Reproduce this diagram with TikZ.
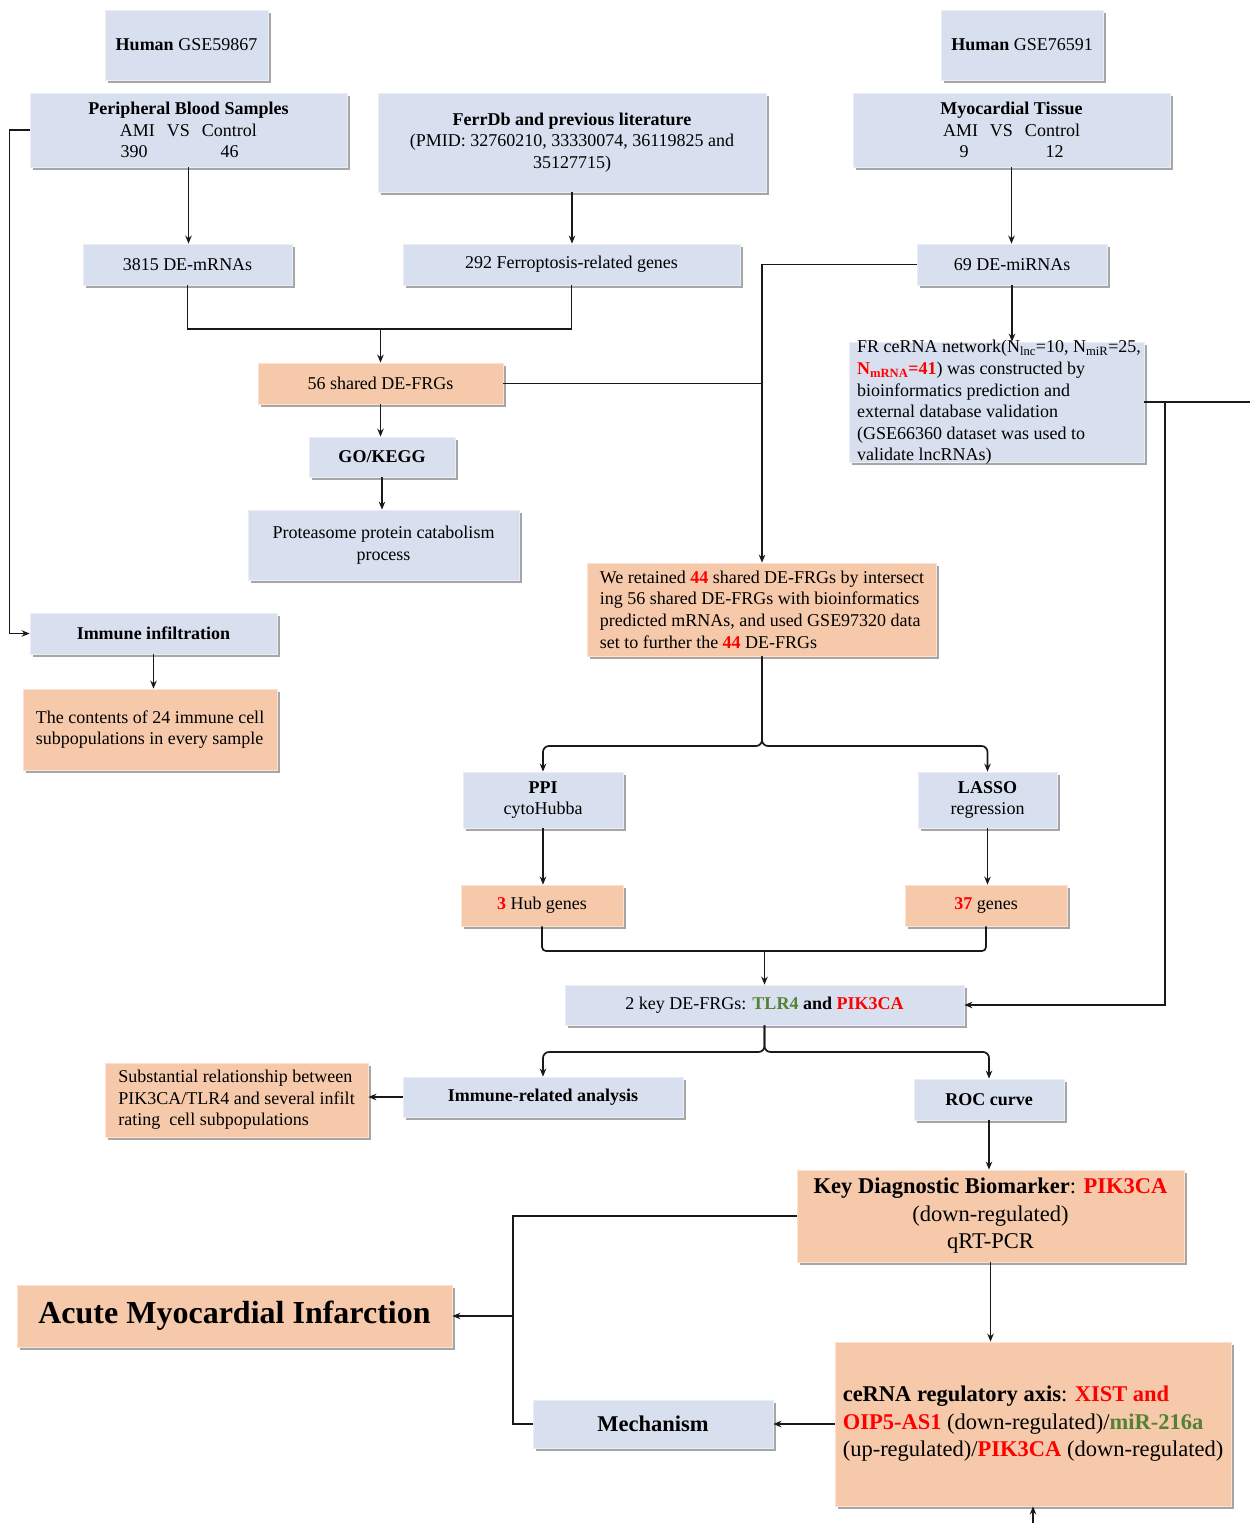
\documentclass[tikz,border=0pt]{standalone}
\usepackage{fontspec}
\setmainfont{Liberation Serif}
\usetikzlibrary{arrows.meta,shadows,calc}
\definecolor{boxblue}{RGB}{216,223,238}
\definecolor{boxorange}{RGB}{246,201,170}
\definecolor{tgreen}{RGB}{84,130,53}
\definecolor{tred}{RGB}{255,0,0}
\newcommand{\fsn}{\fontsize{18}{21.6}\selectfont}
\newcommand{\fsl}{\fontsize{22.5}{27.5}\selectfont}
\newcommand{\fsh}{\fontsize{32}{38}\selectfont}
\newcommand{\rb}[1]{\textcolor{tred}{\textbf{#1}}}
\newcommand{\gb}[1]{\textcolor{tgreen}{\textbf{#1}}}
\tikzset{
  bbox/.style={fill=boxblue, draw=boxblue!55!white, line width=0.8pt,
    drop shadow={shadow xshift=2.5pt, shadow yshift=-3pt, fill=black, opacity=0.35},
    inner sep=2pt, font=\fsn, align=center},
  obox/.style={bbox, fill=boxorange, draw=boxorange!55!white},
  ln/.style={line width=1.7pt, draw=black!90},
  arr/.style={ln, -{Stealth[length=8pt,width=6.5pt]}},
}
\begin{document}
\begin{tikzpicture}[x=1pt,y=-1pt]
\fill[white] (0,0) rectangle (1250,1523);
\useasboundingbox (0,0) rectangle (1250,1523);

% nodes
\node[bbox, minimum width=163pt, minimum height=70pt] (h1) at (186.5,45) {\textbf{Human} GSE59867};
\node[bbox, minimum width=162pt, minimum height=70pt] (h2) at (1022,45) {\textbf{Human} GSE76591};
\node[bbox, minimum width=317pt, minimum height=74pt] (pbs) at (188.5,130)
  {\textbf{Peripheral Blood Samples}\\AMI\hspace{12pt}VS\hspace{12pt}Control\\390\hspace{73pt}46\hspace*{18pt}};
\node[bbox, minimum width=388pt, minimum height=99pt] (ferr) at (572,142.5)
  {\textbf{FerrDb and previous literature}\\(PMID: 32760210, 33330074, 36119825 and\\35127715)};
\node[bbox, minimum width=317pt, minimum height=74pt] (myo) at (1011.5,130)
  {\textbf{Myocardial Tissue}\\AMI\hspace{12pt}VS\hspace{12pt}Control\\9\hspace{77pt}12};
\node[bbox, minimum width=209pt, minimum height=41pt] (de1) at (187.5,264.5) {3815 DE-mRNAs};
\node[bbox, minimum width=337pt, minimum height=41pt] (fg) at (571.5,264.5) {292 Ferroptosis-related genes};
\node[bbox, minimum width=190pt, minimum height=41pt] (mi) at (1012,264.5) {69 DE-miRNAs};
\node[obox, minimum width=245pt, minimum height=41pt] (s56) at (380.5,383.5) {56 shared DE-FRGs};
\node[bbox, minimum width=295pt, minimum height=120pt] (fr) at (996.5,402) {};
\node[font=\fsn, align=left, inner sep=0pt] (frt) at (999,402.5)
  {FR ceRNA network(N\textsubscript{lnc}=10, N\textsubscript{miR}=25,\\
   \rb{N\textsubscript{mRNA}=41}) was constructed by\\
   bioinformatics prediction and\\
   external database validation\\
   (GSE66360 dataset was used to\\
   validate lncRNAs)};
\node[bbox, minimum width=146pt, minimum height=40pt] (go) at (382,457) {\textbf{GO/KEGG}};
\node[bbox, minimum width=271pt, minimum height=70pt] (prot) at (383.5,545) {Proteasome protein catabolism\\process};
\node[obox, minimum width=349pt, minimum height=93pt, align=left] (ret) at (762,609.5)
  {We retained \rb{44} shared DE-FRGs by intersect\\
   ing 56 shared DE-FRGs with bioinformatics\\
   predicted mRNAs, and used GSE97320 data\\
   set to further the \rb{44} DE-FRGs};
\node[bbox, minimum width=247pt, minimum height=41pt] (imm) at (153.5,633.5) {\textbf{Immune infiltration}};
\node[obox, minimum width=254pt, minimum height=81pt, align=left] (cont) at (150,729.5)
  {The contents of 24 immune cell\\subpopulations in every sample};
\node[bbox, minimum width=160pt, minimum height=56pt] (ppi) at (543,800) {\textbf{PPI}\\cytoHubba};
\node[bbox, minimum width=139pt, minimum height=56pt] (lasso) at (987.5,800) {\textbf{LASSO}\\regression};
\node[obox, minimum width=162pt, minimum height=41pt] (hub) at (542,905.5) {\rb{3} Hub genes};
\node[obox, minimum width=162pt, minimum height=41pt] (g37) at (986,905.5) {\rb{37} genes};
\node[bbox, minimum width=399pt, minimum height=40pt] (key) at (764.5,1005)
  {2 key DE-FRGs: \gb{TLR4} \textbf{and} \rb{PIK3CA}};
\node[obox, minimum width=263pt, minimum height=74pt, align=left] (sub) at (236.5,1100)
  {Substantial relationship between\\PIK3CA/TLR4 and several infilt\\rating\ \ cell subpopulations};
\node[bbox, minimum width=280pt, minimum height=40pt] (ira) at (543,1097) {\textbf{Immune-related analysis}};
\node[bbox, minimum width=150pt, minimum height=41pt] (roc) at (989,1099.5) {\textbf{ROC curve}};
\node[obox, minimum width=387pt, minimum height=92pt, font=\fsl] (kdb) at (990.5,1216)
  {\textbf{Key Diagnostic Biomarker}: \rb{PIK3CA}\\(down-regulated)\\qRT-PCR};
\node[obox, minimum width=435pt, minimum height=62pt, font=\fsh] (ami) at (234.5,1316)
  {\textbf{Acute Myocardial Infarction}};
\node[obox, minimum width=396pt, minimum height=164pt, font=\fsl, align=left] (cer) at (1033,1424)
  {\textbf{ceRNA regulatory axis}: \rb{XIST and}\\
   \rb{OIP5-AS1} (down-regulated)/\gb{miR-216a}\\
   (up-regulated)/\rb{PIK3CA} (down-regulated)};
\node[bbox, minimum width=240pt, minimum height=48pt, font=\fsl] (mech) at (653,1424) {\textbf{Mechanism}};

% helper coordinates
\coordinate (j1) at (380.5,329);
\coordinate (sp1) at (762,746);
\coordinate (j3) at (764.5,951);
\coordinate (j4) at (764.5,1052);
\coordinate (j5) at (513,1316);
\coordinate (rEnd) at (1250,402);
\coordinate (rDrop) at (1165,402);
\coordinate (bEnd) at (1033,1523);

% connectors
\draw[arr] (pbs.south) -- (pbs.south |- de1.north);
\draw[arr] (ferr.south) -- (ferr.south |- fg.north);
\draw[arr] (myo.south) -- (myo.south |- mi.north);
\draw[ln] (de1.south) |- (j1) -| (fg.south);
\draw[arr] (j1) -- (s56.north);
\draw[arr] (mi.west) -| (ret.north);
\draw[ln] (s56.east) -- (s56.east -| ret.north);
\draw[arr] (s56.south) -- (s56.south |- go.north);
\draw[arr] (go.south) -- (go.south |- prot.north);
\draw[arr] (pbs.west) -- ++(-20,0) |- (imm.west);
\draw[arr] (imm.south) -- (imm.south |- cont.north);
\draw[arr] (mi.south) -- (mi.south |- fr.north);
\draw[ln] (fr.east) -- (rEnd);
\draw[arr] (rDrop) |- (key.east);
\draw[arr, rounded corners=6pt] (ret.south) -- (sp1) -| (ppi.north);
\draw[arr, rounded corners=6pt] (ret.south) -- (sp1) -| (lasso.north);
\draw[arr] (ppi.south) -- (ppi.south |- hub.north);
\draw[arr] (lasso.south) -- (lasso.south |- g37.north);
\draw[ln, rounded corners=4pt] (hub.south) |- (j3) -| (g37.south);
\draw[arr] (j3) -- (key.north);
\draw[arr, rounded corners=6pt] (key.south) -- (j4) -| (ira.north);
\draw[arr, rounded corners=6pt] (key.south) -- (j4) -| (roc.north);
\draw[arr] (ira.west) -- (ira.west -| sub.east);
\draw[arr] (roc.south) -- (roc.south |- kdb.north);
\draw[ln] (kdb.west) -| (j5) |- (mech.west);
\draw[arr] (j5) -- (ami.east);
\draw[arr] (kdb.south) -- (kdb.south |- cer.north);
\draw[arr] (cer.west) -- (mech.east);
\draw[arr] (bEnd) -- (bEnd |- cer.south);
\end{tikzpicture}
\end{document}
